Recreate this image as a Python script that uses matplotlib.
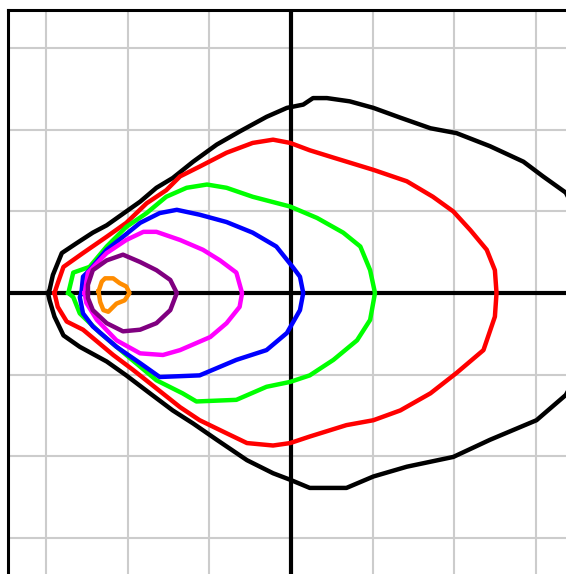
import matplotlib
matplotlib.use("Agg")
import matplotlib.pyplot as plt
import numpy as np

# Contour curves (data units: one grid cell = 1), each closed loop
black_x = [-2.98, -2.96, -2.92, -2.81, -2.63, -2.43, -2.26, -2.02, -1.85, -1.65, -1.45, -1.20, -0.91, -0.63, -0.30, -0.05,
           0.15, 0.27, 0.44, 0.72, 1.01, 1.34, 1.71, 2.03, 2.44, 2.85, 3.09, 3.37, 3.61, 3.73, 3.61,
           3.37, 3.01, 2.44, 1.99, 1.42, 1.01, 0.68, 0.23, -0.01, -0.22, -0.54, -0.91, -1.20, -1.45, -1.73,
           -2.02, -2.26, -2.59, -2.79, -2.90, -2.96, -2.98]
black_y = [0.00, 0.04, 0.22, 0.49, 0.61, 0.74, 0.83, 1.00, 1.12, 1.29, 1.41, 1.61, 1.82, 1.98, 2.16, 2.27,
           2.31, 2.39, 2.39, 2.35, 2.27, 2.15, 2.02, 1.96, 1.80, 1.61, 1.43, 1.23, 0.77, 0.00, -0.82,
           -1.25, -1.56, -1.80, -2.01, -2.13, -2.25, -2.39, -2.39, -2.29, -2.21, -2.05, -1.80, -1.60, -1.44, -1.23,
           -1.01, -0.84, -0.66, -0.52, -0.29, -0.09, 0.00]

red_x = [-2.90, -2.86, -2.79, -2.55, -2.26, -2.02, -1.77, -1.53, -1.36, -1.12, -0.79, -0.47, -0.22, -0.01, 0.23, 0.52,
         1.01, 1.42, 1.74, 1.99, 2.20, 2.40, 2.50, 2.52, 2.50, 2.36, 2.03, 1.71, 1.34, 1.01, 0.68, 0.23,
         -0.01, -0.22, -0.54, -0.79, -1.12, -1.36, -1.65, -1.94, -2.18, -2.55, -2.75, -2.86, -2.90]
red_y = [0.00, 0.12, 0.32, 0.49, 0.69, 0.86, 1.10, 1.26, 1.43, 1.55, 1.72, 1.84, 1.88, 1.84, 1.75, 1.66,
         1.51, 1.37, 1.18, 1.00, 0.77, 0.53, 0.28, 0.00, -0.29, -0.70, -0.98, -1.23, -1.44, -1.56, -1.62, -1.76,
         -1.84, -1.87, -1.84, -1.72, -1.56, -1.40, -1.17, -0.94, -0.76, -0.45, -0.35, -0.17, 0.00]

green_x = [-2.73, -2.67, -2.47, -2.26, -2.02, -1.77, -1.53, -1.28, -1.03, -0.79, -0.47, -0.01, 0.32, 0.64, 0.85, 0.97,
           1.03, 0.97, 0.81, 0.52, 0.23, -0.01, -0.30, -0.67, -1.16, -1.33, -1.65, -2.02, -2.34, -2.59, -2.67, -2.73]
green_y = [0.00, 0.25, 0.32, 0.57, 0.81, 0.98, 1.18, 1.29, 1.33, 1.29, 1.18, 1.06, 0.92, 0.74, 0.57, 0.28,
           0.00, -0.33, -0.58, -0.82, -1.01, -1.09, -1.15, -1.31, -1.33, -1.23, -1.07, -0.76, -0.49, -0.25, -0.05, 0.00]

blue_x = [-2.57, -2.55, -2.47, -2.26, -2.06, -1.85, -1.61, -1.40, -1.12, -0.79, -0.47, -0.18, 0.02, 0.11, 0.15,
          0.11, -0.05, -0.30, -0.67, -1.12, -1.61, -1.85, -2.14, -2.43, -2.55, -2.59, -2.57]
blue_y = [0.00, 0.20, 0.28, 0.53, 0.69, 0.86, 0.98, 1.02, 0.96, 0.87, 0.74, 0.57, 0.32, 0.20, 0.00,
          -0.21, -0.49, -0.70, -0.82, -1.01, -1.03, -0.86, -0.66, -0.41, -0.25, -0.05, 0.00]

magenta_x = [-2.53, -2.49, -2.26, -2.02, -1.81, -1.65, -1.36, -1.08, -0.87, -0.67, -0.60,
             -0.63, -0.79, -0.99, -1.36, -1.57, -1.85, -2.14, -2.38, -2.51, -2.53]
magenta_y = [0.00, 0.25, 0.49, 0.65, 0.75, 0.75, 0.65, 0.53, 0.40, 0.25, 0.00,
             -0.17, -0.37, -0.54, -0.70, -0.76, -0.74, -0.58, -0.33, -0.12, 0.00]

purple_x = [-2.49, -2.49, -2.43, -2.26, -2.06, -1.85, -1.65, -1.48, -1.40,
            -1.48, -1.65, -1.85, -2.06, -2.26, -2.43, -2.49, -2.49]
purple_y = [0.00, 0.10, 0.28, 0.40, 0.47, 0.38, 0.28, 0.16, 0.00,
            -0.21, -0.37, -0.45, -0.47, -0.37, -0.21, -0.06, 0.00]

orange_x = [-2.36, -2.32, -2.28, -2.18, -2.10, -2.02, -1.98, -2.04, -2.14, -2.24, -2.30, -2.34, -2.36]
orange_y = [0.02, 0.14, 0.18, 0.18, 0.12, 0.08, 0.00, -0.09, -0.13, -0.23, -0.21, -0.11, 0.02]

grid_ticks = [-3, -2, -1, 0, 1, 2, 3]

curves = [
    (black_x, black_y, "#000000"),
    (red_x, red_y, "#ff0000"),
    (green_x, green_y, "#00ff00"),
    (blue_x, blue_y, "#0000ff"),
    (magenta_x, magenta_y, "#ff00ff"),
    (purple_x, purple_y, "#800080"),
    (orange_x, orange_y, "#ff8c00"),
]

W, H = 566, 574
fig = plt.figure(figsize=(W / 100, H / 100), dpi=100)
# axes extends beyond the right/bottom figure edge (cropped view)
ax = fig.add_axes([8 / W, (H - 576) / H, 566 / W, 566 / H])
ax.set_xlim(-3.47, 3.47)
ax.set_ylim(-3.47, 3.47)

for t in grid_ticks:
    ax.axvline(t, color="#cccccc", lw=1.5, zorder=0)
    ax.axhline(t, color="#cccccc", lw=1.5, zorder=0)
ax.axvline(0, color="black", lw=3.0, zorder=1)
ax.axhline(0, color="black", lw=3.0, zorder=1)

for xs, ys, c in curves:
    ax.plot(xs, ys, color=c, lw=3.2, zorder=2, solid_joinstyle="round")

ax.set_xticks([])
ax.set_yticks([])
for s in ax.spines.values():
    s.set_linewidth(2.2)
    s.set_color("black")

fig.savefig("out.png", dpi=100)
